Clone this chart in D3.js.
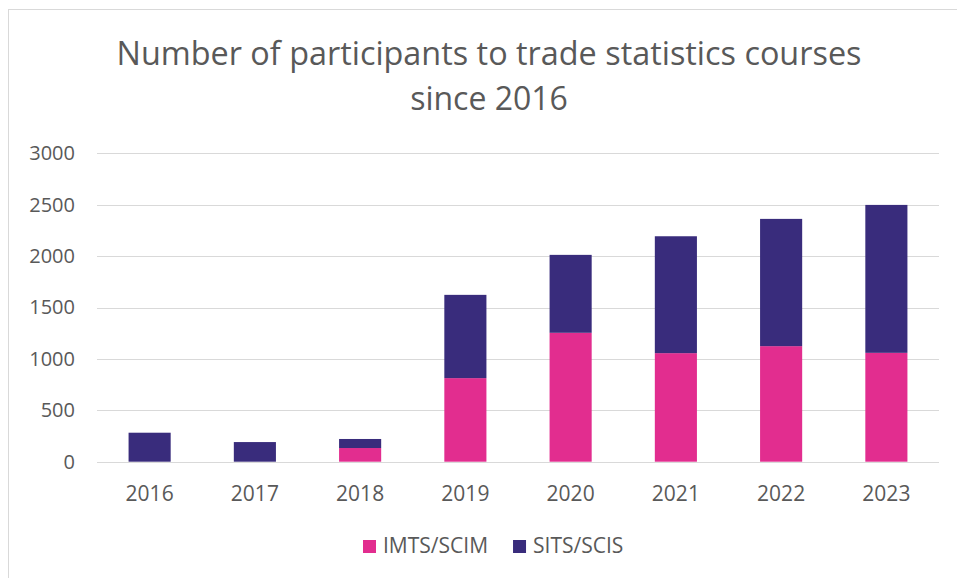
<!DOCTYPE html>
<html>
  <head>
    <meta charset="utf-8">
    <title>participants</title>
    <script type="text/javascript" src="https://cdn.jsdelivr.net/npm/d3@7"></script>
    <style type="text/css">
      body { margin: 0; background: #fff; }
      text { font-family: "Open Sans", sans-serif; fill: #595959; }
      .axis path, .axis line { display: none; }
      .grid line { stroke: #d9d9d9; stroke-width: 1.5; shape-rendering: crispEdges; }
    </style>
  </head>
  <body>
    <script type="text/javascript">
      var w = 957;
      var h = 578;

      // data
      var years = ["2016", "2017", "2018", "2019", "2020", "2021", "2022", "2023"];
      var imts = [0, 0, 133, 813, 1254, 1056, 1124, 1059];
      var sits = [282, 191, 88, 810, 758, 1137, 1238, 1439];
      var seriesNames = ["IMTS/SCIM", "SITS/SCIS"];
      var colors = ["#e22d8f", "#392c7c"];
      var yTicks = [0, 500, 1000, 1500, 2000, 2500, 3000];
      var titleLines = ["Number of participants to trade statistics courses", "since 2016"];

      var rows = years.map(function(y, i) {
        return { year: y, "IMTS/SCIM": imts[i], "SITS/SCIS": sits[i] };
      });

      var svg = d3.select("body").append("svg")
        .attr("width", w)
        .attr("height", h);

      // chart frame
      svg.append("rect")
        .attr("x", 8.5).attr("y", 9.5)
        .attr("width", 1200).attr("height", 1200)
        .attr("fill", "none")
        .attr("stroke", "#d9d9d9");

      var xScale = d3.scaleBand()
        .domain(years)
        .range([97, 939])
        .paddingInner(0.6)
        .paddingOuter(0.3);

      var yScale = d3.scaleLinear()
        .domain([0, 3000])
        .range([461.7, 153.3]);

      // gridlines
      svg.append("g")
        .attr("class", "grid")
        .selectAll("line")
        .data(yTicks)
        .enter()
        .append("line")
        .attr("x1", 97).attr("x2", 939)
        .attr("y1", function(d) { return Math.round(yScale(d)) + 0.5; })
        .attr("y2", function(d) { return Math.round(yScale(d)) + 0.5; });

      // stacked bars
      var stack = d3.stack().keys(seriesNames);
      var layers = stack(rows);

      svg.selectAll("g.layer")
        .data(layers)
        .enter()
        .append("g")
        .attr("class", "layer")
        .attr("fill", function(d, i) { return colors[i]; })
        .selectAll("rect")
        .data(function(d) { return d; })
        .enter()
        .append("rect")
        .attr("x", function(d) { return xScale(d.data.year); })
        .attr("width", xScale.bandwidth())
        .attr("y", function(d) { return yScale(d[1]); })
        .attr("height", function(d) { return yScale(d[0]) - yScale(d[1]); });

      // y axis
      var yAxis = d3.axisLeft(yScale).tickValues(yTicks).tickFormat(d3.format("d"))
        .tickSize(0).tickPadding(0);
      svg.append("g")
        .attr("class", "axis")
        .attr("transform", "translate(75,0)")
        .call(yAxis)
        .selectAll("text")
        .attr("font-size", "20px")
        .attr("font-family", "Open Sans, sans-serif")
        .attr("fill", "#595959");

      // x axis
      var xAxis = d3.axisBottom(xScale).tickSize(0).tickPadding(0);
      svg.append("g")
        .attr("class", "axis")
        .attr("transform", "translate(0,501)")
        .call(xAxis)
        .selectAll("text")
        .attr("dy", "0")
        .attr("font-size", "21px")
        .attr("font-family", "Open Sans, sans-serif")
        .attr("fill", "#595959");

      // title
      var title = svg.append("g");
      title.selectAll("text")
        .data(titleLines)
        .enter()
        .append("text")
        .attr("x", 489)
        .attr("y", function(d, i) { return 65 + i * 45; })
        .attr("text-anchor", "middle")
        .attr("font-size", "32px")
        .text(function(d) { return d; });
      title.select("text").attr("textLength", 745).attr("lengthAdjust", "spacingAndGlyphs");

      // legend
      var lx = 363;
      seriesNames.forEach(function(name, i) {
        var g = svg.append("g");
        g.append("rect")
          .attr("x", lx).attr("y", 540)
          .attr("width", 13).attr("height", 13)
          .attr("fill", colors[i]);
        var t = g.append("text")
          .attr("x", lx + 20).attr("y", 553)
          .attr("font-size", "21px")
          .text(name);
        lx += 20 + t.node().getComputedTextLength() + 25;
      });
    </script>
  </body>
</html>
